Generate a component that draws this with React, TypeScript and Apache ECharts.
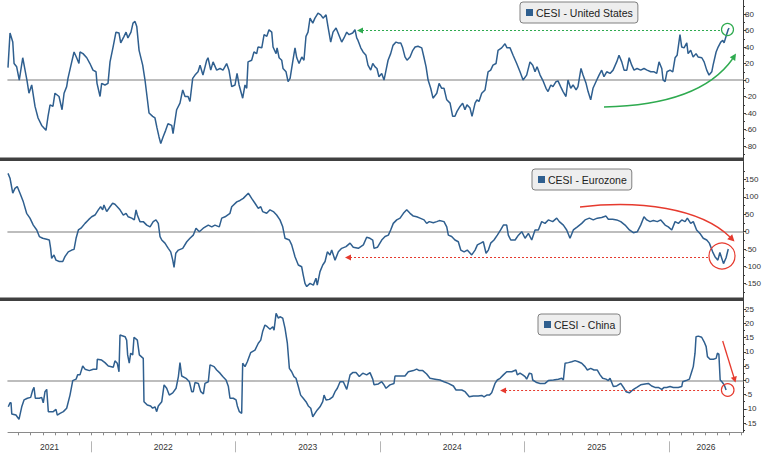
import React, { useEffect, useRef } from "react";
import * as echarts from "echarts";

// ---- Data (x = decimal year, y = index value) ----
const seriesNames = ["CESI - United States", "CESI - Eurozone", "CESI - China"];

const usPoints: [number, number][] = [
  [2021.426, 15], [2021.44, 57], [2021.459, 46], [2021.468, 20], [2021.486, 16], [2021.504, 0], [2021.528, 27],
  [2021.544, 12], [2021.557, 0], [2021.571, -16], [2021.59, -6], [2021.613, -32], [2021.634, -46], [2021.659, -55],
  [2021.689, -61], [2021.703, -44], [2021.717, -30], [2021.737, -32], [2021.751, -16], [2021.779, -20], [2021.8, -36],
  [2021.814, -16], [2021.832, -8], [2021.841, 2], [2021.867, 22], [2021.883, 34], [2021.901, 27], [2021.917, 20],
  [2021.924, 34], [2021.945, 32], [2021.971, 27], [2021.993, 20], [2022.014, 12], [2022.035, 10], [2022.042, -4],
  [2022.063, -20], [2022.074, -4], [2022.097, -6], [2022.118, -4], [2022.132, 22], [2022.153, 40], [2022.173, 58],
  [2022.194, 57], [2022.206, 45], [2022.229, 53], [2022.243, 58], [2022.256, 51], [2022.277, 58], [2022.291, 69],
  [2022.305, 71], [2022.317, 65], [2022.333, 36], [2022.358, 18], [2022.374, 0], [2022.388, -20], [2022.402, -40],
  [2022.427, -44], [2022.443, -46], [2022.457, -58], [2022.471, -69], [2022.483, -77], [2022.499, -69], [2022.517, -61],
  [2022.533, -53], [2022.559, -55], [2022.568, -65], [2022.593, -36], [2022.616, -28], [2022.635, -12], [2022.651, -20],
  [2022.672, -20], [2022.685, -26], [2022.704, 2], [2022.72, 6], [2022.741, 10], [2022.755, 18], [2022.775, 6],
  [2022.801, 24], [2022.81, 27], [2022.829, 12], [2022.845, 22], [2022.87, 12], [2022.893, 14], [2022.914, 12],
  [2022.939, 20], [2022.955, 12], [2022.974, -8], [2022.997, -6], [2023.011, 8], [2023.025, -6], [2023.05, -22],
  [2023.066, -6], [2023.078, -10], [2023.087, 22], [2023.112, 24], [2023.128, 34], [2023.147, 32], [2023.156, 40],
  [2023.182, 39], [2023.198, 55], [2023.217, 53], [2023.232, 61], [2023.251, 58], [2023.26, 40], [2023.281, 32],
  [2023.288, 39], [2023.302, 27], [2023.32, 24], [2023.329, 14], [2023.35, 10], [2023.364, -2], [2023.378, 2],
  [2023.396, 22], [2023.412, 39], [2023.424, 27], [2023.44, 20], [2023.459, 28], [2023.474, 24], [2023.488, 53],
  [2023.502, 58], [2023.516, 75], [2023.535, 69], [2023.55, 75], [2023.564, 79], [2023.571, 81], [2023.59, 79],
  [2023.606, 75], [2023.627, 79], [2023.64, 65], [2023.659, 46], [2023.675, 58], [2023.696, 63], [2023.71, 57],
  [2023.735, 46], [2023.751, 51], [2023.77, 58], [2023.786, 55], [2023.811, 57], [2023.827, 61], [2023.839, 51],
  [2023.848, 48], [2023.867, 39], [2023.883, 34], [2023.903, 30], [2023.917, 18], [2023.936, 12], [2023.95, 20],
  [2023.966, 16], [2023.979, 14], [2023.993, 4], [2024.012, 8], [2024.028, 0], [2024.042, 12], [2024.056, 24],
  [2024.074, 32], [2024.09, 42], [2024.111, 46], [2024.125, 45], [2024.144, 45], [2024.157, 39], [2024.173, 28],
  [2024.187, 24], [2024.208, 28], [2024.227, 36], [2024.243, 40], [2024.263, 41], [2024.289, 39], [2024.305, 27],
  [2024.319, 16], [2024.333, 0], [2024.351, -10], [2024.367, -22], [2024.393, -16], [2024.409, -4], [2024.427, -10],
  [2024.443, -10], [2024.462, -24], [2024.485, -28], [2024.503, -44], [2024.519, -44], [2024.533, -38], [2024.554, -32],
  [2024.572, -28], [2024.588, -36], [2024.602, -30], [2024.623, -34], [2024.637, -44], [2024.658, -28], [2024.671, -24],
  [2024.685, -26], [2024.704, -16], [2024.727, -12], [2024.748, 10], [2024.766, 12], [2024.782, 18], [2024.803, 20],
  [2024.817, 36], [2024.842, 39], [2024.865, 44], [2024.879, 39], [2024.9, 39], [2024.921, 30], [2024.946, 20],
  [2024.969, 10], [2024.99, 0], [2025.015, 6], [2025.038, 22], [2025.057, 18], [2025.073, 10], [2025.087, 16],
  [2025.108, 6], [2025.126, 0], [2025.149, -10], [2025.163, -14], [2025.182, -6], [2025.197, -8], [2025.218, -2],
  [2025.232, -1], [2025.25, -8], [2025.267, -14], [2025.287, -20], [2025.301, 0], [2025.32, -10], [2025.336, -6],
  [2025.357, -12], [2025.37, -8], [2025.391, 14], [2025.405, 6], [2025.426, -4], [2025.44, -14], [2025.458, -24],
  [2025.474, -10], [2025.5, 0], [2025.516, 6], [2025.534, 12], [2025.55, 4], [2025.569, 10], [2025.592, 8],
  [2025.613, 12], [2025.638, 22], [2025.654, 30], [2025.673, 22], [2025.689, 12], [2025.708, 12], [2025.724, 27],
  [2025.742, 18], [2025.758, 12], [2025.779, 14], [2025.804, 12], [2025.827, 14], [2025.848, 12], [2025.874, 10],
  [2025.897, 10], [2025.915, 8], [2025.931, 22], [2025.95, 14], [2025.959, 0], [2025.973, -2], [2025.986, 10],
  [2026.007, 12], [2026.026, 10], [2026.042, 27], [2026.056, 30], [2026.076, 55], [2026.088, 40], [2026.104, 39],
  [2026.123, 45], [2026.132, 32], [2026.15, 36], [2026.167, 28], [2026.187, 32], [2026.201, 28], [2026.227, 27],
  [2026.243, 22], [2026.261, 12], [2026.277, 6], [2026.296, 10], [2026.305, 18], [2026.326, 34], [2026.34, 40],
  [2026.358, 46], [2026.372, 48], [2026.381, 45], [2026.395, 53], [2026.409, 61], [2026.416, 63],
];

const euPoints: [number, number][] = [
  [2021.426, 168], [2021.44, 154], [2021.459, 111], [2021.474, 125], [2021.49, 130], [2021.509, 111], [2021.532, 86],
  [2021.555, 53], [2021.578, 39], [2021.601, 19], [2021.625, 5], [2021.643, -14], [2021.666, -19], [2021.694, -22],
  [2021.712, -24], [2021.721, -48], [2021.728, -77], [2021.744, -67], [2021.758, -82], [2021.781, -86], [2021.805, -86],
  [2021.82, -72], [2021.843, -58], [2021.867, -53], [2021.883, -51], [2021.897, -19], [2021.913, 5], [2021.931, 10],
  [2021.959, 24], [2021.982, 34], [2022.005, 43], [2022.028, 48], [2022.051, 63], [2022.067, 72], [2022.081, 63],
  [2022.09, 77], [2022.109, 58], [2022.132, 72], [2022.15, 82], [2022.166, 79], [2022.182, 72], [2022.201, 63],
  [2022.224, 48], [2022.243, 53], [2022.258, 43], [2022.282, 39], [2022.3, 34], [2022.312, 63], [2022.321, 48],
  [2022.339, 29], [2022.362, 29], [2022.386, 19], [2022.409, 14], [2022.431, 29], [2022.45, 34], [2022.466, 24],
  [2022.478, -14], [2022.49, -24], [2022.512, -33], [2022.535, -48], [2022.552, -58], [2022.566, -82], [2022.575, -103],
  [2022.587, -62], [2022.605, -53], [2022.635, -48], [2022.663, -29], [2022.685, -19], [2022.708, -10], [2022.727, 10],
  [2022.75, 0], [2022.777, 10], [2022.812, 19], [2022.836, 14], [2022.858, 19], [2022.888, 14], [2022.905, 39],
  [2022.928, 43], [2022.962, 53], [2022.974, 72], [2023.009, 86], [2023.031, 90], [2023.054, 96], [2023.089, 111],
  [2023.112, 96], [2023.135, 82], [2023.158, 67], [2023.175, 72], [2023.188, 58], [2023.216, 53], [2023.239, 63],
  [2023.262, 58], [2023.285, 48], [2023.308, 34], [2023.327, 14], [2023.343, -19], [2023.373, -24], [2023.389, -38],
  [2023.412, -72], [2023.435, -96], [2023.458, -101], [2023.469, -125], [2023.481, -149], [2023.493, -158],
  [2023.516, -149], [2023.539, -154], [2023.557, -134], [2023.566, -154], [2023.585, -115], [2023.604, -96],
  [2023.62, -86], [2023.636, -58], [2023.654, -67], [2023.666, -53], [2023.689, -82], [2023.712, -58], [2023.735, -48],
  [2023.765, -43], [2023.793, -33], [2023.815, -45], [2023.85, -48], [2023.885, -38], [2023.908, -16], [2023.931, -19],
  [2023.95, -24], [2023.959, -48], [2023.982, -45], [2024.012, -24], [2024.035, -14], [2024.058, -10], [2024.074, 5],
  [2024.092, 24], [2024.116, 34], [2024.139, 39], [2024.162, 53], [2024.185, 63], [2024.208, 53], [2024.231, 45],
  [2024.254, 43], [2024.277, 39], [2024.305, 34], [2024.323, 24], [2024.341, 29], [2024.369, 26], [2024.393, 29],
  [2024.411, 32], [2024.443, 29], [2024.462, 14], [2024.473, -10], [2024.496, -14], [2024.519, -24], [2024.542, -29],
  [2024.559, -53], [2024.582, -58], [2024.604, -53], [2024.635, -67], [2024.658, -53], [2024.674, -38], [2024.697, -33],
  [2024.715, -29], [2024.734, -62], [2024.75, -53], [2024.766, -33], [2024.789, -24], [2024.812, -10], [2024.835, 5],
  [2024.854, 19], [2024.877, 19], [2024.888, -10], [2024.905, -24], [2024.935, -24], [2024.958, -10], [2024.981, 0],
  [2025.004, -19], [2025.027, -5], [2025.05, -24], [2025.073, 5], [2025.096, 5], [2025.119, 29], [2025.142, 24],
  [2025.165, 34], [2025.195, 29], [2025.223, 39], [2025.241, 29], [2025.269, 19], [2025.292, 5], [2025.315, -19],
  [2025.338, 5], [2025.366, 14], [2025.396, 24], [2025.419, 34], [2025.449, 39], [2025.476, 34], [2025.504, 39],
  [2025.534, 41], [2025.564, 45], [2025.58, 36], [2025.61, 36], [2025.638, 34], [2025.666, 29], [2025.696, 19],
  [2025.726, 5], [2025.753, -3], [2025.781, 0], [2025.804, 19], [2025.827, 43], [2025.846, 34], [2025.869, 29],
  [2025.892, 32], [2025.919, 29], [2025.943, 34], [2025.973, 19], [2025.995, 14], [2026.019, 5], [2026.042, 29],
  [2026.065, 24], [2026.088, 34], [2026.111, 29], [2026.127, 39], [2026.15, 24], [2026.168, 29], [2026.191, 5],
  [2026.214, -5], [2026.237, -19], [2026.261, -24], [2026.279, -33], [2026.302, -58], [2026.318, -72], [2026.338, -82],
  [2026.352, -60], [2026.377, -92], [2026.395, -75], [2026.41, -50],
];

const cnPoints: [number, number][] = [
  [2021.428, -9.3], [2021.44, -7.9], [2021.447, -7.9], [2021.452, -11.8], [2021.481, -12.2], [2021.502, -13.7],
  [2021.521, -9.3], [2021.537, -6.9], [2021.56, -6.3], [2021.583, -6.0], [2021.597, -3.4], [2021.606, -2.5],
  [2021.615, -6.3], [2021.643, -6.3], [2021.659, -6.0], [2021.67, -7.9], [2021.682, -4.0], [2021.694, -3.2],
  [2021.705, -11.0], [2021.739, -11.0], [2021.758, -10.2], [2021.767, -12.2], [2021.786, -11.6], [2021.809, -11.0],
  [2021.832, -9.8], [2021.855, -5.2], [2021.874, -0.1], [2021.897, 0.4], [2021.908, 1.9], [2021.924, 1.9],
  [2021.943, 5.0], [2021.959, 3.9], [2021.989, 3.4], [2022.016, 3.9], [2022.04, 3.9], [2022.044, 7.4], [2022.074, 7.1],
  [2022.097, 6.2], [2022.12, 5.0], [2022.155, 4.6], [2022.166, 6.8], [2022.182, 6.0], [2022.194, 3.0], [2022.201, 15.9],
  [2022.236, 15.3], [2022.247, 14.1], [2022.254, 8.9], [2022.265, 6.0], [2022.275, 9.5], [2022.289, 8.9],
  [2022.298, 15.1], [2022.321, 14.1], [2022.335, 8.9], [2022.362, 7.7], [2022.367, -7.5], [2022.39, -8.7],
  [2022.413, -9.0], [2022.427, -9.8], [2022.443, -9.3], [2022.455, -11.0], [2022.466, -9.0], [2022.49, -7.5],
  [2022.506, -1.6], [2022.524, -2.8], [2022.542, -5.2], [2022.566, -4.4], [2022.589, -2.8], [2022.605, 1.3],
  [2022.616, 6.2], [2022.628, 1.5], [2022.658, 0.7], [2022.681, -0.5], [2022.697, -4.0], [2022.708, -4.0],
  [2022.72, -0.8], [2022.743, -1.1], [2022.76, -4.0], [2022.778, -4.8], [2022.789, -1.1], [2022.812, -0.5],
  [2022.824, 5.4], [2022.852, 4.8], [2022.87, 3.6], [2022.893, 2.5], [2022.912, 1.3], [2022.935, 0.1], [2022.951, -2.2],
  [2022.962, -6.3], [2022.985, -6.3], [2023.004, -6.9], [2023.013, -9.0], [2023.027, -11.0], [2023.043, -11.6],
  [2023.05, 6.0], [2023.066, 4.8], [2023.082, 6.5], [2023.105, 9.7], [2023.135, 10.6], [2023.158, 13.0],
  [2023.175, 14.1], [2023.188, 17.1], [2023.204, 19.4], [2023.22, 18.8], [2023.239, 17.9], [2023.258, 18.8],
  [2023.267, 17.6], [2023.281, 23.5], [2023.297, 21.8], [2023.308, 22.3], [2023.327, 21.8], [2023.343, 18.2],
  [2023.359, 13.0], [2023.373, 4.2], [2023.389, 3.0], [2023.405, 1.3], [2023.419, 0.7], [2023.435, -2.2],
  [2023.451, -5.2], [2023.469, -6.3], [2023.488, -7.5], [2023.504, -9.0], [2023.521, -9.8], [2023.535, -12.8],
  [2023.55, -11.6], [2023.566, -10.4], [2023.585, -9.3], [2023.604, -7.5], [2023.613, -5.2], [2023.627, -6.9],
  [2023.65, -6.7], [2023.673, -5.8], [2023.689, -4.0], [2023.705, -2.8], [2023.724, -0.5], [2023.746, -0.5],
  [2023.77, -3.2], [2023.793, 1.9], [2023.811, 2.7], [2023.834, 2.7], [2023.857, 1.3], [2023.881, 2.5], [2023.908, 1.9],
  [2023.931, 2.7], [2023.95, 0.4], [2023.959, -1.6], [2023.989, -1.3], [2024.012, -0.5], [2024.028, -1.6],
  [2024.042, -2.8], [2024.069, -1.6], [2024.097, -1.1], [2024.104, 1.5], [2024.134, 1.5], [2024.173, 1.5],
  [2024.196, 3.0], [2024.231, 3.4], [2024.254, 3.9], [2024.272, 3.4], [2024.296, 3.4], [2024.323, 2.2], [2024.346, 0.7],
  [2024.381, 0.4], [2024.415, 0.1], [2024.443, -0.5], [2024.473, -1.1], [2024.508, -2.0], [2024.526, -3.4],
  [2024.566, -3.4], [2024.589, -4.0], [2024.618, -5.8], [2024.646, -5.5], [2024.68, -5.5], [2024.704, -5.3],
  [2024.72, -5.8], [2024.739, -5.2], [2024.757, -5.2], [2024.773, -4.4], [2024.796, -1.1], [2024.812, 0.1],
  [2024.831, 0.7], [2024.854, 1.9], [2024.877, 3.0], [2024.912, 3.0], [2024.941, 3.6], [2024.95, 1.9], [2024.969, 2.5],
  [2024.988, 1.9], [2025.004, 1.3], [2025.015, 0.4], [2025.034, 2.5], [2025.05, 2.2], [2025.057, 0.1], [2025.085, -0.8],
  [2025.108, -1.1], [2025.142, -1.1], [2025.165, -0.1], [2025.2, 0.1], [2025.234, 0.4], [2025.258, 0.7], [2025.269, 0.1],
  [2025.281, 6.0], [2025.304, 6.2], [2025.327, 6.5], [2025.35, 6.9], [2025.373, 6.5], [2025.396, 6.0], [2025.419, 4.8],
  [2025.435, 3.6], [2025.458, 4.2], [2025.481, 3.6], [2025.504, 3.6], [2025.523, 1.9], [2025.541, 0.7], [2025.564, 0.4],
  [2025.58, -0.1], [2025.592, 0.7], [2025.615, -2.2], [2025.638, -2.0], [2025.666, -1.1], [2025.689, -2.8],
  [2025.703, -4.0], [2025.726, -4.4], [2025.749, -3.4], [2025.777, -2.5], [2025.804, -1.6], [2025.834, -1.3],
  [2025.857, -1.1], [2025.88, -2.0], [2025.903, -2.5], [2025.926, -2.5], [2025.95, -3.2], [2025.966, -2.5],
  [2025.984, -2.5], [2026.007, -2.2], [2026.03, -2.5], [2026.049, -2.5], [2026.064, -2.5], [2026.088, -2.2],
  [2026.095, -0.5], [2026.118, -0.1], [2026.141, 0.4], [2026.157, 3.0], [2026.168, 4.8], [2026.18, 9.5], [2026.187, 15.3],
  [2026.203, 15.5], [2026.226, 15.1], [2026.243, 13.5], [2026.257, 11.8], [2026.266, 8.3], [2026.284, 7.4],
  [2026.307, 7.4], [2026.326, 7.7], [2026.335, 9.5], [2026.345, 9.2], [2026.354, 0.1], [2026.366, -0.5],
  [2026.382, -1.6], [2026.395, -3.4],
];

// Axis tick labels
const usTicks = [-80, -60, -40, -20, 0, 20, 40, 60, 80];
const euTicks = [-150, -100, -50, 0, 50, 100, 150];
const cnTicks = [-15, -10, -5, 0, 5, 10, 15, 20, 25];
const usMinor = [-90, -70, -50, -30, -10, 10, 30, 50, 70, 90];
const euMinor = [-175, -125, -75, -25, 25, 75, 125, 175];
const cnMinor = [-17.5, -12.5, -7.5, -2.5, 2.5, 7.5, 12.5, 17.5, 22.5];
const yearLabels = [2021, 2022, 2023, 2024, 2025, 2026];

// Annotation levels: [startX, endX, y]
const usRef = [2023.848, 2026.36, 61];
const euRef = [2023.765, 2026.28, -73];
const cnRef = [2024.838, 2026.36, -3.4];

const X_MIN = 2021.426;
const X_MAX = 2026.512;

const FONT = "Liberation Sans, Arial, sans-serif";
const LINE = "#2f5f8f";
const GREEN = "#2eaa4f";
const RED = "#e63a2e";

export default function App() {
  const ref = useRef<HTMLDivElement>(null);
  useEffect(() => {
    if (!ref.current) return;
    const chart = echarts.init(ref.current, undefined, { renderer: "svg" });

    const monthTicks: number[] = [];
    for (let y = 2021; y <= 2026; y++) {
      for (let m = 0; m < 12; m++) {
        const t = y + m / 12;
        if (t >= X_MIN - 0.02 && t <= X_MAX) monthTicks.push(t);
      }
    }
    const yearMids = yearLabels.map((y) => (Math.max(y, X_MIN) + Math.min(y + 1, X_MAX)) / 2);
    const yearBounds = yearLabels.filter((y) => y > X_MIN && y < X_MAX);

    const grids = [
      { left: 8, right: 25, top: 0, height: 158 },
      { left: 8, right: 25, top: 161.5, height: 136.5 },
      { left: 8, right: 25, top: 301, height: 131.3 },
    ];
    const ranges = [
      [-94.5, 97],
      [-191.1, 202.3],
      [-18.25, 27.82],
    ];
    const majors = [usTicks, euTicks, cnTicks];
    const minors = [usMinor, euMinor, cnMinor];

    const zeroX = [0, 1, 2].map((i) => ({
      type: "value",
      gridIndex: i,
      min: X_MIN,
      max: X_MAX,
      axisLine: { show: true, onZero: true, lineStyle: { color: "#a8a8a8", width: 1.6 } },
      axisTick: { show: false },
      axisLabel: { show: false },
      splitLine: { show: false },
    }));

    const xAxis: any[] = [
      ...zeroX,
      {
        type: "value",
        gridIndex: 2,
        position: "bottom",
        min: X_MIN,
        max: X_MAX,
        axisLine: { show: true, onZero: false, lineStyle: { color: "#8a8a8a", width: 1 } },
        axisTick: { show: true, customValues: monthTicks, length: 3, lineStyle: { color: "#8a8a8a" } },
        axisLabel: {
          show: true,
          customValues: yearMids,
          formatter: (v: number) => String(Math.floor(v)),
          fontSize: 8.5,
          color: "#333",
          fontFamily: FONT,
          margin: 10,
        },
        splitLine: { show: false },
      },
      {
        type: "value",
        gridIndex: 2,
        position: "bottom",
        offset: 9,
        min: X_MIN,
        max: X_MAX,
        axisLine: { show: false, onZero: false },
        axisTick: { show: true, customValues: yearBounds, length: 11, lineStyle: { color: "#b5b5b5" } },
        axisLabel: { show: false },
        splitLine: { show: false },
      },
    ];

    const yMain = [0, 1, 2].map((i) => ({
      type: "value",
      gridIndex: i,
      position: "right",
      min: ranges[i][0],
      max: ranges[i][1],
      axisLine: { show: true, onZero: false, lineStyle: { color: "#3a3a3a", width: 1 } },
      axisTick: { show: true, customValues: majors[i], length: 3, lineStyle: { color: "#3a3a3a" } },
      axisLabel: { show: true, customValues: majors[i], fontSize: 8, color: "#333", fontFamily: FONT, margin: 2 },
      splitLine: { show: false },
    }));
    const yMinor = [0, 1, 2].map((i) => ({
      type: "value",
      gridIndex: i,
      position: "right",
      min: ranges[i][0],
      max: ranges[i][1],
      axisLine: { show: false, onZero: false },
      axisTick: { show: true, customValues: minors[i], length: 2, lineStyle: { color: "#3a3a3a" } },
      axisLabel: { show: false },
      splitLine: { show: false },
    }));

    const refs = [usRef, euRef, cnRef];
    const refColors = [GREEN, RED, RED];
    const pts = [usPoints, euPoints, cnPoints];

    const series = [0, 1, 2].map((i) => ({
      type: "line",
      name: seriesNames[i],
      xAxisIndex: i,
      yAxisIndex: i,
      data: pts[i],
      showSymbol: false,
      symbol: "none",
      lineStyle: { color: LINE, width: 1.5 },
      itemStyle: { color: LINE },
      z: 3,
    }));

    const legendBase = {
      orient: "horizontal",
      selectedMode: false,
      icon: "rect",
      itemWidth: 7,
      itemHeight: 7,
      backgroundColor: "#eeeeee",
      borderColor: "#808080",
      borderWidth: 1,
      borderRadius: 3,
      padding: [5, 5, 5, 6],
      textStyle: { fontSize: 10.5, color: "#222", fontFamily: FONT, padding: [0, 0, 0, -2] },
    };
    const legend = [
      { ...legendBase, data: [seriesNames[0]], left: 520, top: 2 },
      { ...legendBase, data: [seriesNames[1]], left: 532, top: 169 },
      { ...legendBase, data: [seriesNames[2]], left: 538, top: 314 },
    ];

    const graphic: any[] = [
      { type: "rect", shape: { x: 0, y: 157.5, width: 744, height: 3.5 }, style: { fill: "#404040" }, z: 10 },
      { type: "rect", shape: { x: 0, y: 297.5, width: 744, height: 3.5 }, style: { fill: "#404040" }, z: 10 },
      // US annotations
      { type: "circle", shape: { cx: 727.5, cy: 29.5, r: 6 }, style: { fill: "none", stroke: GREEN, lineWidth: 1.2 }, z: 10 },
      {
        type: "bezierCurve",
        shape: { x1: 604, y1: 107, cpx1: 700, cpy1: 105, x2: 732.5, y2: 59 },
        style: { fill: "none", stroke: GREEN, lineWidth: 1.4 },
        z: 10,
      },
      { type: "polygon", shape: { points: [[736, 53.5], [735.2, 61], [729.8, 57.2]] }, style: { fill: GREEN }, z: 10 },
      // Eurozone annotations
      {
        type: "bezierCurve",
        shape: { x1: 580, y1: 207, cpx1: 640, cpy1: 200, cpx2: 700, cpy2: 208, x2: 730, y2: 237 },
        style: { fill: "none", stroke: RED, lineWidth: 1.4 },
        z: 10,
      },
      { type: "polygon", shape: { points: [[734.5, 241.5], [732.2, 234.2], [727.2, 239.2]] }, style: { fill: RED }, z: 10 },
      { type: "circle", shape: { cx: 722, cy: 256, r: 13 }, style: { fill: "none", stroke: RED, lineWidth: 1.2 }, z: 10 },
      // China annotations
      { type: "circle", shape: { cx: 727.7, cy: 390, r: 6.3 }, style: { fill: "none", stroke: RED, lineWidth: 1.2 }, z: 10 },
      { type: "line", shape: { x1: 722.7, y1: 341, x2: 733.8, y2: 377 }, style: { stroke: RED, lineWidth: 1.3 }, z: 10 },
      { type: "polygon", shape: { points: [[735.5, 382.5], [736.8, 375.9], [730.8, 377.7]] }, style: { fill: RED }, z: 10 },
    ];

    chart.setOption({
      animation: false,
      backgroundColor: "#ffffff",
      textStyle: { fontFamily: FONT },
      grid: grids,
      xAxis,
      yAxis: [...yMain, ...yMinor],
      legend,
      series,
      graphic,
    } as any);

    // Dotted reference lines anchored to data coordinates
    const refGraphics: any[] = [];
    refs.forEach((r, i) => {
      const p1 = chart.convertToPixel({ gridIndex: i } as any, [r[0], r[2]]) as number[];
      const p2 = chart.convertToPixel({ gridIndex: i } as any, [r[1], r[2]]) as number[];
      if (!p1 || !p2) return;
      const y = Math.round(p1[1]) + 0.5;
      refGraphics.push({
        type: "line",
        shape: { x1: p1[0] + 4, y1: y, x2: p2[0], y2: y },
        style: { stroke: refColors[i], lineWidth: 1.2, lineDash: [2, 2] },
        z: 9,
      });
      refGraphics.push({
        type: "polygon",
        shape: { points: [[p1[0] - 1, y], [p1[0] + 5, y - 3], [p1[0] + 5, y + 3]] },
        style: { fill: refColors[i] },
        z: 9,
      });
    });
    chart.setOption({ graphic: [...graphic, ...refGraphics] } as any);

    return () => chart.dispose();
  }, []);

  return (
    <div
      ref={ref}
      style={{ position: "fixed", left: 0, top: 0, width: 768, height: 455, background: "#fff" }}
    />
  );
}
